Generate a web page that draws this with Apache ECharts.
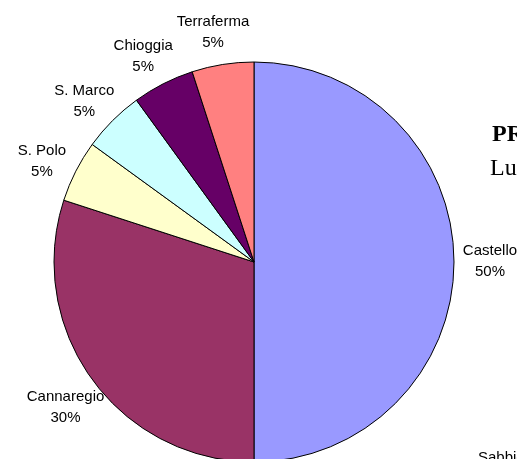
<!DOCTYPE html>
<html>
<head>
<meta charset="utf-8">
<script src="https://cdn.jsdelivr.net/npm/echarts@6/dist/echarts.min.js"></script>
<style>html,body{margin:0;padding:0;background:#fff;}#c{width:517px;height:459px;}</style>
</head>
<body>
<div id="c"></div>
<script>
var categories = ['Castello', 'Cannaregio', 'S. Polo', 'S. Marco', 'Chioggia', 'Terraferma'];
var values = [50, 30, 5, 5, 5, 5];
var colors = ['#9999FF', '#993366', '#FFFFCC', '#CCFFFF', '#660066', '#FF8080'];
var titleLines = ['PRESENZE', 'Luglio'];
var strayLabel = 'Sabbioni';

var chart = echarts.init(document.getElementById('c'), null, {renderer: 'canvas'});
var pieData = categories.map(function (c, i) {
  return {name: c, value: values[i], itemStyle: {color: colors[i]}};
});
var labelData = categories.map(function (c, i) {
  return {name: c, value: values[i]};
});
chart.setOption({
  animation: false,
  backgroundColor: '#ffffff',
  series: [
    {
      type: 'pie',
      center: [254, 262],
      radius: [0, 200],
      startAngle: 90,
      clockwise: true,
      silent: true,
      label: {show: false},
      labelLine: {show: false},
      itemStyle: {borderColor: '#000000', borderWidth: 1},
      data: pieData
    },
    {
      type: 'pie',
      center: [254, 265],
      radius: [212, 254],
      startAngle: 91,
      clockwise: true,
      silent: true,
      itemStyle: {color: 'rgba(0,0,0,0)'},
      labelLine: {show: false},
      label: {
        show: true,
        position: 'inside',
        formatter: '{b}\n{d}%',
        fontFamily: 'Liberation Sans, Arial, sans-serif',
        fontSize: 15,
        lineHeight: 21,
        color: '#000000'
      },
      data: labelData
    }
  ],
  graphic: [
    {type: 'text', left: 492, top: 123, style: {text: titleLines[0], font: 'bold 24px "Liberation Serif", "Times New Roman", serif', fill: '#000'}},
    {type: 'text', left: 490, top: 157, style: {text: titleLines[1], font: '24px "Liberation Serif", "Times New Roman", serif', fill: '#000'}},
    {type: 'text', left: 478, top: 450, style: {text: strayLabel, font: '15px "Liberation Sans", Arial, sans-serif', fill: '#000'}}
  ]
});
</script>
</body>
</html>
